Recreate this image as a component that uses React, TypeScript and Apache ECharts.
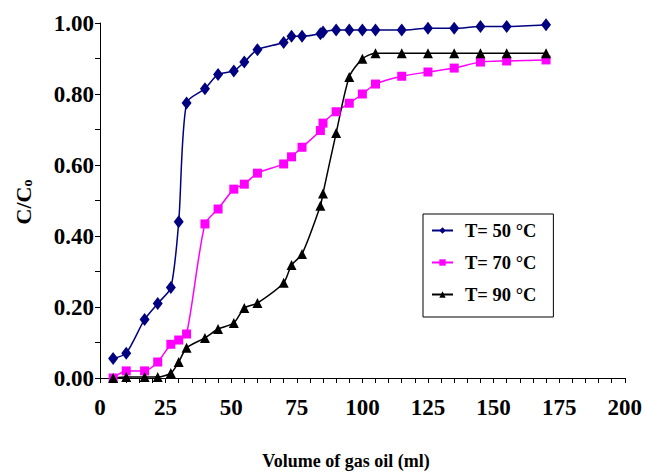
import React, { useEffect, useRef } from "react";
import * as echarts from "echarts";

const xValues = [5, 10, 17, 22, 27, 30, 33, 40, 45, 51, 55, 60, 70, 73, 77, 84, 85, 90, 95, 100, 105, 115, 125, 135, 145, 155, 170];
const t50 = [0.055, 0.07, 0.165, 0.21, 0.255, 0.44, 0.775, 0.815, 0.855, 0.865, 0.89, 0.925, 0.945, 0.963, 0.963, 0.97, 0.975, 0.98, 0.98, 0.98, 0.98, 0.98, 0.985, 0.985, 0.99, 0.99, 0.995];
const t70 = [0.0, 0.02, 0.02, 0.045, 0.095, 0.107, 0.124, 0.434, 0.476, 0.532, 0.546, 0.577, 0.603, 0.623, 0.65, 0.697, 0.718, 0.75, 0.774, 0.8, 0.828, 0.85, 0.862, 0.873, 0.89, 0.893, 0.896];
const t90 = [0.0, 0.003, 0.003, 0.003, 0.014, 0.045, 0.085, 0.113, 0.138, 0.155, 0.197, 0.211, 0.268, 0.318, 0.349, 0.485, 0.52, 0.69, 0.848, 0.899, 0.915, 0.915, 0.915, 0.915, 0.915, 0.915, 0.915];
const seriesNames = ["T= 50 °C", "T= 70 °C", "T= 90 °C"];
const xTitle = "Volume of gas oil (ml)";

const FONT = "Liberation Serif";

export default function App() {
  const ref = useRef<HTMLDivElement>(null);
  useEffect(() => {
    document.body.style.margin = "0";
    document.documentElement.style.overflow = "hidden";
    if (!ref.current) return;
    const chart = echarts.init(ref.current, null, { renderer: "svg" });
    const pair = (ys: number[]) => xValues.map((x, i) => [x, ys[i]]);
    const mk = (name: string, ys: number[], color: string, symbol: string, size: any) => ({
      name,
      type: "line",
      data: pair(ys),
      smooth: 0.25,
      symbol,
      symbolSize: size,
      itemStyle: { color },
      lineStyle: { color, width: 1.5 },
      z: 3,
    });
    chart.setOption({
      animation: false,
      backgroundColor: "#fff",
      grid: { left: 100, right: 19, top: 23, bottom: 94, containLabel: false },
      xAxis: {
        type: "value",
        min: 0,
        max: 200,
        interval: 25,
        axisLine: { show: true, lineStyle: { color: "#000", width: 1 } },
        axisTick: { show: true, length: 5, lineStyle: { color: "#000" } },
        minorTick: { show: true, splitNumber: 5, length: 5, lineStyle: { color: "#000" } },
        splitLine: { show: false },
        axisLabel: { margin: 18, color: "#000", fontFamily: FONT, fontWeight: "bold", fontSize: 23 },
      },
      yAxis: {
        type: "value",
        min: 0,
        max: 1,
        interval: 0.2,
        axisLine: { show: true, lineStyle: { color: "#000", width: 1 } },
        axisTick: { show: true, length: 5, lineStyle: { color: "#000" } },
        minorTick: { show: true, splitNumber: 2, length: 5, lineStyle: { color: "#000" } },
        splitLine: { show: false },
        axisLabel: {
          margin: 6,
          color: "#000",
          fontFamily: FONT,
          fontWeight: "bold",
          fontSize: 23,
          formatter: (v: number) => v.toFixed(2),
        },
      },
      legend: {
        orient: "vertical",
        left: 423,
        top: 214,
        data: seriesNames,
        borderColor: "#000",
        borderWidth: 1,
        borderRadius: 0,
        padding: [7, 17, 13, 8],
        itemGap: 13,
        itemWidth: 21,
        itemHeight: 8,
        textStyle: { color: "#000", fontFamily: FONT, fontWeight: "bold", fontSize: 18.5, padding: [0, 0, 0, 7] },
      },
      graphic: [
        {
          type: "text",
          x: 346,
          y: 452,
          style: {
            text: xTitle,
            fontFamily: FONT,
            fontWeight: "bold",
            fontSize: 18,
            fill: "#000",
            align: "center",
            verticalAlign: "top",
          },
        },
        {
          type: "text",
          x: 23,
          y: 202,
          rotation: Math.PI / 2,
          style: {
            text: "{a|C/C}{b|o}",
            fill: "#000",
            align: "center",
            verticalAlign: "middle",
            rich: {
              a: { fontFamily: FONT, fontWeight: "bold", fontSize: 22, fill: "#000" },
              b: { fontFamily: FONT, fontWeight: "bold", fontSize: 14, fill: "#000", verticalAlign: "bottom", padding: [8, 0, 0, 0] },
            },
          },
        },
      ],
      series: [
        mk(seriesNames[0], t50, "#000080", "diamond", [10, 13]),
        mk(seriesNames[1], t70, "#FF00FF", "rect", 9),
        mk(seriesNames[2], t90, "#000000", "triangle", 10),
      ],
    });
    return () => chart.dispose();
  }, []);
  return <div ref={ref} style={{ width: 645, height: 472 }} />;
}
